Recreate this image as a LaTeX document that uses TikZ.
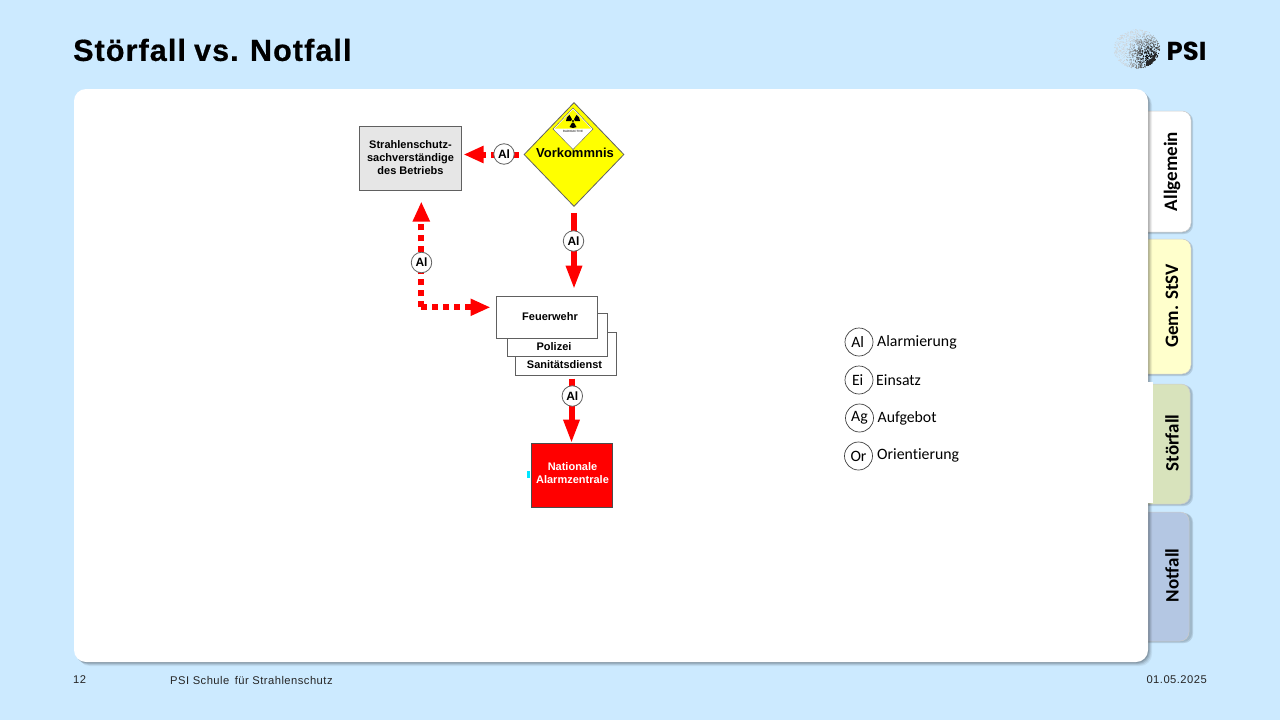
\documentclass[tikz,border=0pt]{standalone}
\usepackage{fontspec}
\setmainfont{Liberation Sans}
\newfontfamily\tabfont[Ligatures=NoCommon]{Carlito}
\newfontfamily\titlefont[LetterSpace=3.6,WordSpace=0.85,FakeBold=0.6]{Liberation Sans}
\newfontfamily\footfont[LetterSpace=4.2]{Liberation Sans}
\newfontfamily\logofont{Poppins}
\usetikzlibrary{arrows.meta,shapes.geometric,calc}
\definecolor{bgblue}{HTML}{CCEAFF}
\definecolor{boxgray}{HTML}{E6E6E6}
\definecolor{edgegray}{HTML}{606060}
\definecolor{tabyellow}{HTML}{FFFFCC}
\definecolor{tabgreen}{HTML}{D8E3BC}
\definecolor{tabblue}{HTML}{B4C7E3}
\definecolor{signyellow}{HTML}{FFFF00}
\definecolor{tickcyan}{HTML}{00E5FF}
\definecolor{pure}{HTML}{FF0000}
\tikzset{
  x=1pt,y=-1pt,
  flowbox/.style={draw=edgegray,line width=1pt,inner sep=0pt},
  flowtext/.style={inner sep=0pt,align=center,font=\fontsize{11}{13.25}\selectfont\bfseries},
  alcircle/.style={circle,draw=edgegray,fill=white,line width=.8pt,minimum size=20.5pt,inner sep=0pt,font=\fontsize{12}{14}\selectfont\bfseries},
  solidarrow/.style={draw=pure,line width=6pt,-{Triangle[length=24pt,width=15pt]}},
  dotarrow/.style={draw=pure,line width=6pt,dash pattern=on 6pt off 5pt,-{Triangle[length=20pt,width=16pt]}},
  legcircle/.style={circle,draw=black!75,line width=.7pt,minimum size=28pt,inner sep=0pt,font=\tabfont\fontsize{15.8}{18}\selectfont},
  legtext/.style={anchor=west,inner sep=0pt,font=\tabfont\fontsize{15.8}{18}\selectfont},
  tabshape/.style={rounded corners=9pt,draw=black!20,line width=.5pt},
  tablabel/.style={rotate=90,inner sep=0pt,font=\tabfont\bfseries\fontsize{19}{22}\selectfont},
  foot/.style={inner sep=0pt,font=\footfont\fontsize{11.2}{13}\selectfont,text=black!85},
}
\begin{document}
\begin{tikzpicture}
\useasboundingbox (0,0) rectangle (1280,720);
\fill[bgblue] (0,0) rectangle (1280,720);

% tab shadows and tabs (left parts hidden by the panel)
\foreach \ya/\yb in {111/232,239/374,384/504,512/641}{
  \fill[black,opacity=.12,rounded corners=9pt] (1125,\ya+1) rectangle (1193,\yb+2);
  \fill[black,opacity=.10,rounded corners=9pt] (1125,\ya+1) rectangle (1192,\yb+1);
}
\path[fill=white,tabshape] (1125,111) rectangle (1191,232);
\path[fill=tabyellow,tabshape] (1125,239) rectangle (1191,374);
\path[fill=tabgreen,tabshape] (1125,384) rectangle (1190,504);
\path[fill=tabblue,tabshape] (1125,512) rectangle (1189,641);

% panel shadow
\foreach \d/\o in {4/.06,3/.08,2/.11,1/.14}{
  \fill[black,opacity=\o,rounded corners=12pt] (74+\d,89+\d) rectangle (1148+\d,662+\d);
}
\fill[white,rounded corners=12pt] (74,89) rectangle (1148,662);
\fill[white] (1135,382) rectangle (1153,503);

\node[tablabel] (tabA) at (1172,171.5) {Allgemein};
\node[tablabel] (tabG) at (1172,306) {Gem. StSV};
\node[tablabel] (tabS) at (1172,443) {Störfall};
\node[tablabel] (tabN) at (1172,575.5) {Notfall};

% header and footer
\node[anchor=west,inner sep=0pt,font=\titlefont\bfseries\fontsize{30.5}{34}\selectfont] (title) at (73,50) {Störfall vs. Notfall};
\node[foot,anchor=west] (fnum) at (73,680) {12};
\node[foot,anchor=west] (fname) at (170,680) {PSI Schule\, für Strahlenschutz};
\node[foot,anchor=east] (fdate) at (1207,680) {01.05.2025};

% logo
\pgfmathsetseed{4711}
\foreach \i in {1,...,1000}{
  \pgfmathsetmacro{\rr}{23*sqrt(rnd)}
  \pgfmathsetmacro{\aa}{360*rnd}
  \pgfmathsetmacro{\px}{1137+\rr*cos(\aa)}
  \pgfmathsetmacro{\py}{49+\rr*sin(\aa)*.85}
  \pgfmathsetmacro{\dd}{min(1,sqrt((\px-1150)^2+(\py-57)^2)/26)}
  \pgfmathsetmacro{\gg}{min(100,max(0,100*(1-\dd)+18))}
  \pgfmathsetmacro{\dsize}{.35+.35*(1-\dd)}
  \fill[black!\gg] (\px,\py) circle (\dsize);
}
\fill[black!85] (1146,62) .. controls (1152,60) and (1155,55) .. (1155,50) .. controls (1158,56) and (1154,65) .. (1146,66) -- cycle;
\node[anchor=west,inner sep=0pt,font=\logofont\bfseries\fontsize{26}{30}\selectfont] (psi) at (1166.5,51) {PSI};

% diagram nodes
\node[flowbox,fill=boxgray,minimum width=102pt,minimum height=64pt] (strahl) at (410,158) {};
\node[flowtext] (strahltext) at (410.5,157.5) {Strahlenschutz-\\sachverständige\\des Betriebs};
\node[draw=edgegray,fill=signyellow,line width=.8pt,diamond,aspect=.96,minimum width=100pt,minimum height=104pt,inner sep=0pt] (vork) at (574,154.5) {};
\fill[white,draw=edgegray,line width=.4pt] (553,129) -- (573,108) -- (593,129) -- (573,149.5) -- cycle;
\fill[signyellow] (555,128.5) -- (573,109.5) -- (591,128.5) -- cycle;
\foreach \ang in {90,210,330}{
  \fill[black] ($(573,121)+(\ang-30:2)$) -- ($(573,121)+(\ang-30:7)$) arc[start angle=\ang-30,end angle=\ang+30,radius=7] -- ($(573,121)+(\ang+30:2)$) -- cycle;
}
\fill[black] (573,121) circle (1.2);
\node[inner sep=0pt,font=\fontsize{3}{3}\selectfont] (radio) at (573,131) {RADIOACTIVE};
\node[inner sep=0pt,font=\fontsize{13}{15}\selectfont\bfseries] (vorktext) at (575,153) {Vorkommnis};

\node[flowbox,fill=white,minimum width=101pt,minimum height=43pt] (sani) at (565.5,353.5) {};
\node[flowtext] (sanitext) at (564.5,365) {Sanitätsdienst};
\node[flowbox,fill=white,minimum width=100pt,minimum height=43pt] (poli) at (557,334.5) {};
\node[flowtext] (politext) at (554,347) {Polizei};
\node[flowbox,fill=white,minimum width=101pt,minimum height=42pt] (feuer) at (547,317) {};
\node[flowtext] (feuertext) at (550,317) {Feuerwehr};
\node[flowbox,fill=pure,draw=black!70,minimum width=81pt,minimum height=64pt] (naz) at (571.5,475) {};
\node[flowtext,text=white] (naztext) at (572.5,473) {Nationale\\Alarmzentrale};
\fill[tickcyan] (527,471) rectangle (530,478);

% connectors
\coordinate (corner) at (421.3,307.3);
\draw[dotarrow,shorten >=2pt,shorten <=5pt] (vork.west) -- (strahl.east |- vork.west);
\draw[solidarrow,shorten >=6pt,shorten <=6pt] (vork.south) -- (vork.south |- feuer.north);
\draw[dotarrow,shorten >=11pt] (corner) -- (corner |- strahl.south);
\draw[dotarrow,shorten >=5.5pt] (corner) -- (corner -| feuer.west);
\draw[solidarrow,xshift=.7pt,shorten >=-1pt,shorten <=3pt] (sani.south -| naz.north) -- (naz.north);

\node[alcircle] (al1) at (504,154) {Al};
\node[alcircle] (al2) at (573.5,241) {Al};
\node[alcircle] (al3) at (421.5,262.5) {Al};
\node[alcircle] (al4) at (572.3,396) {Al};

% legend
\node[legcircle] (lAl) at (859,342) {Al\,};
\node[legcircle] (lEi) at (859,380) {Ei\,};
\node[legcircle] (lAg) at (859.5,418) {Ag};
\node[legcircle] (lOr) at (858.5,456) {Or};
\node[legtext] (tAl) at (877,342) {Alarmierung};
\node[legtext] (tEi) at (876,380) {Einsatz};
\node[legtext] (tAg) at (877.5,418) {Aufgebot};
\node[legtext] (tOr) at (877,455.5) {Orientierung};
\end{tikzpicture}
\end{document}
